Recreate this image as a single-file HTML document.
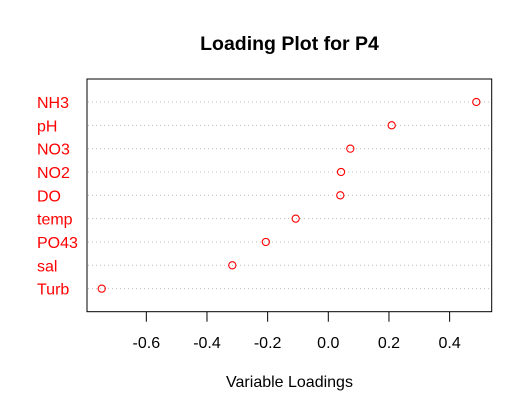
<!DOCTYPE html>
<html><head><meta charset="utf-8"><style>body{margin:0;background:#fff}</style></head>
<body>
<svg id="chart" width="532" height="410" xmlns="http://www.w3.org/2000/svg" font-family="Liberation Sans, Arial, sans-serif">
<text x="289.5" y="50" text-anchor="middle" font-size="19.5" font-weight="bold">Loading Plot for P4</text>
<rect x="87" y="79" width="404.7" height="232.7" fill="none" stroke="#000" stroke-width="1"/>
<text x="289.5" y="387" text-anchor="middle" font-size="16">Variable Loadings</text>
<g id="grid"></g><g id="ticks"></g><g id="pts"></g><g id="labels"></g>
</svg>
<script>
const categories = ["NH3","pH","NO3","NO2","DO","temp","PO43","sal","Turb"];
const loadings = [0.488, 0.209, 0.0726, 0.042, 0.0396, -0.1075, -0.206, -0.3165, -0.747];
const tickValues = [-0.6,-0.4,-0.2,0.0,0.2,0.4];
const tickLabels = ["-0.6","-0.4","-0.2","0.0","0.2","0.4"];
const NS="http://www.w3.org/2000/svg";
function xs(v){return 328.3+303.3*v;}
function ys(i){return 102+i*23.33;}
function mk(tag,attrs,parent){const e=document.createElementNS(NS,tag);for(const k in attrs)e.setAttribute(k,attrs[k]);document.getElementById(parent).appendChild(e);return e;}
categories.forEach((c,i)=>{
  const g=mk("line",{x1:88,x2:491,y1:ys(i),y2:ys(i),stroke:"#bbb","stroke-dasharray":"1 3"},"grid");
  
  
  const p=mk("circle",{cx:xs(loadings[i]),cy:ys(i),r:3.6,fill:"none",stroke:"#f00","stroke-width":1.1},"pts");
  
  
  const t=mk("text",{x:37,y:ys(i)+6,fill:"#f00","font-size":16},"labels");
  t.textContent=c;
  
  
});
tickValues.forEach((v,i)=>{
  const l=mk("line",{x1:xs(v),x2:xs(v),y1:311.7,y2:321.7,stroke:"#000"},"ticks");
  
  
  const t=mk("text",{x:xs(v),y:348,"text-anchor":"middle","font-size":16},"ticks");
  t.textContent=tickLabels[i];
  
  
});
</script>
</body></html>
